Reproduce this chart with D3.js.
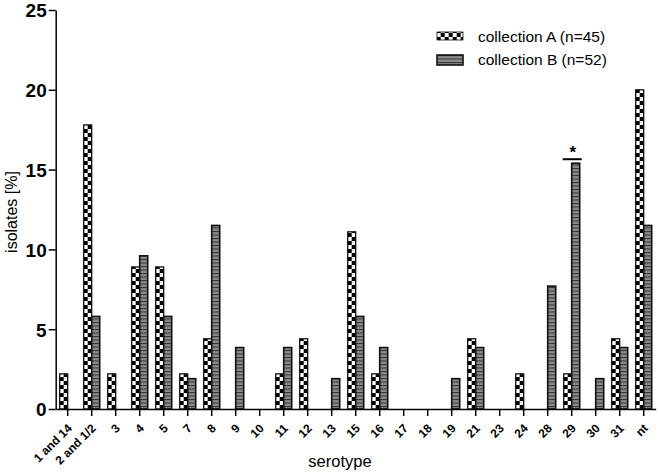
<!DOCTYPE html>
<html lang="en">
  <head>
    <meta charset="UTF-8" />
    <title>Serotype distribution</title>
    <script src="https://d3js.org/d3.v7.min.js"></script>
    <style>
      body {
        margin: 0;
        background: white;
        font-family: Arial, "Liberation Sans", sans-serif;
      }
    </style>
  </head>
  <body>
    <svg id="chart" width="659" height="475"></svg>
    <script>
      // Data
      const serotypes = ["1 and 14", "2 and 1/2", "3", "4", "5", "7", "8", "9", "10", "11", "12", "13",
        "15", "16", "17", "18", "19", "21", "23", "24", "28", "29", "30", "31", "nt"];
      const collectionA = [2.2, 17.8, 2.2, 8.9, 8.9, 2.2, 4.4, 0, 0, 2.2, 4.4, 0,
        11.1, 2.2, 0, 0, 0, 4.4, 0, 2.2, 0, 2.2, 0, 4.4, 20.0];
      const collectionB = [0, 5.8, 0, 9.6, 5.8, 1.9, 11.5, 3.85, 0, 3.85, 0, 1.9,
        5.8, 3.85, 0, 0, 1.9, 3.85, 0, 0, 7.7, 15.4, 1.9, 3.85, 11.5];
      const yTicks = [0, 5, 10, 15, 20, 25];
      const legendLabels = ["collection A (n=45)", "collection B (n=52)"];

      const svg = d3.select("#chart");
      const font = "Arial, 'Liberation Sans', sans-serif";

      // Scales
      const x = d3.scaleBand().domain(serotypes).range([55.7, 655.7]).padding(0);
      const y = d3.scaleLinear().domain([0, 25]).range([409, 10]);
      const barW = 8;

      // Patterns
      const defs = svg.append("defs");
      const checker = defs
        .append("pattern")
        .attr("id", "checker")
        .attr("patternUnits", "userSpaceOnUse")
        .attr("x", (x(serotypes[0]) + x.bandwidth() / 2 - barW) % 8)
        .attr("y", 1)
        .attr("width", 8)
        .attr("height", 8);
      checker.append("rect").attr("width", 8).attr("height", 8).attr("fill", "#fff");
      checker.append("rect").attr("width", 4).attr("height", 4).attr("fill", "#000");
      checker.append("rect").attr("x", 4).attr("y", 4).attr("width", 4).attr("height", 4).attr("fill", "#000");

      const ladder = defs
        .append("pattern")
        .attr("id", "ladder")
        .attr("patternUnits", "userSpaceOnUse")
        .attr("width", 8)
        .attr("height", 3.5);
      ladder.append("rect").attr("width", 8).attr("height", 3.5).attr("fill", "#8a8a8a");
      ladder.append("rect").attr("width", 8).attr("height", 1).attr("fill", "#333");

      const data = serotypes.map((s, i) => ({ s, a: collectionA[i], b: collectionB[i] }));
      const cx = (s) => x(s) + x.bandwidth() / 2;

      // Bars
      svg
        .append("g")
        .selectAll("rect")
        .data(data.filter((d) => d.a > 0))
        .join("rect")
        .attr("x", (d) => cx(d.s) - barW)
        .attr("y", (d) => y(d.a))
        .attr("width", barW)
        .attr("height", (d) => y(0) - y(d.a))
        .attr("fill", "url(#checker)")
        .attr("stroke", "#111")
        .attr("stroke-width", 1.3);

      svg
        .append("g")
        .selectAll("rect")
        .data(data.filter((d) => d.b > 0))
        .join("rect")
        .attr("x", (d) => cx(d.s))
        .attr("y", (d) => y(d.b))
        .attr("width", barW)
        .attr("height", (d) => y(0) - y(d.b))
        .attr("fill", "url(#ladder)")
        .attr("stroke", "#111")
        .attr("stroke-width", 1.6);

      // Axes
      const yAxis = svg
        .append("g")
        .attr("transform", "translate(55.7,0)")
        .call(d3.axisLeft(y).tickValues(yTicks).tickSize(7).tickSizeOuter(0).tickPadding(2));
      yAxis.selectAll("path, line").attr("stroke", "#000").attr("stroke-width", 1.5);
      yAxis
        .selectAll("text")
        .attr("dy", "0.36em")
        .attr("font-family", font)
        .attr("font-size", 19)
        .attr("font-weight", "bold")
        .attr("fill", "#000");

      const xAxis = svg
        .append("g")
        .attr("transform", `translate(0,${y(0)})`)
        .call(d3.axisBottom(x).tickSize(7).tickSizeOuter(0));
      xAxis.selectAll("path, line").attr("stroke", "#000").attr("stroke-width", 1.5);
      xAxis
        .selectAll("text")
        .attr("x", 0)
        .attr("y", 0)
        .attr("dy", "0.35em")
        .attr("transform", "translate(2,17) rotate(-45)")
        .attr("text-anchor", "end")
        .attr("font-family", font)
        .attr("font-size", 12)
        .attr("font-weight", "bold")
        .attr("fill", "#000");

      // Axis titles
      svg
        .append("text")
        .attr("x", 340)
        .attr("y", 467)
        .attr("text-anchor", "middle")
        .attr("font-family", font)
        .attr("font-size", 16.5)
        .text("serotype");

      svg
        .append("text")
        .attr("transform", "translate(17,212) rotate(-90)")
        .attr("text-anchor", "middle")
        .attr("font-family", font)
        .attr("font-size", 16)
        .text("isolates [%]");

      // Significance marker over serotype 29
      const i29 = serotypes.indexOf("29");
      svg
        .append("line")
        .attr("x1", cx("29") - 9)
        .attr("x2", cx("29") + 10)
        .attr("y1", y(collectionB[i29]) - 4)
        .attr("y2", y(collectionB[i29]) - 4)
        .attr("stroke", "#000")
        .attr("stroke-width", 2);
      svg
        .append("text")
        .attr("x", cx("29") + 1)
        .attr("y", y(collectionB[i29]) - 5)
        .attr("text-anchor", "middle")
        .attr("font-family", font)
        .attr("font-size", 17)
        .attr("font-weight", "bold")
        .text("*");

      // Legend
      const legend = svg.append("g").attr("transform", "translate(437,32)");
      const fills = ["url(#checker)", "url(#ladder)"];
      legendLabels.forEach((label, i) => {
        const g = legend.append("g").attr("transform", `translate(0,${i * 23})`);
        g.append("rect")
          .attr("width", 26)
          .attr("height", i === 0 ? 8 : 10)
          .attr("fill", fills[i])
          .attr("stroke", "#111")
          .attr("stroke-width", i === 0 ? 0.8 : 1.6);
        g.append("text")
          .attr("x", 41)
          .attr("y", 5)
          .attr("dy", "0.35em")
          .attr("font-family", font)
          .attr("font-size", 15.5)
          .text(label);
      });
    </script>
  </body>
</html>
